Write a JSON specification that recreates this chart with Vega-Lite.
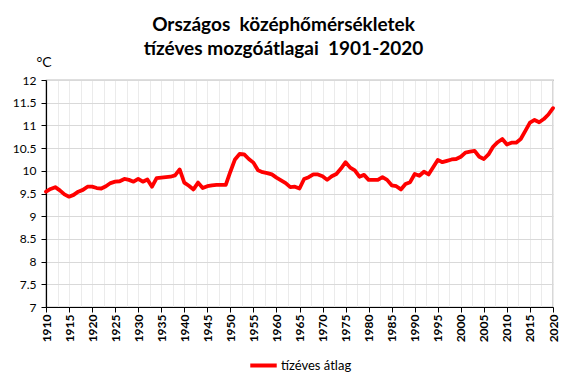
{
  "$schema": "https://vega.github.io/schema/vega-lite/v6.json",
  "width": 507,
  "height": 227,
  "autosize": {"type": "none"},
  "padding": {"left": 46, "top": 80, "right": 15, "bottom": 79},
  "background": "white",
  "title": {
    "text": ["Országos \u00a0középhőmérsékletek", "tízéves mozgóátlagai \u00a01901-2020"],
    "font": "Lato",
    "fontSize": 19,
    "fontWeight": "bold",
    "color": "#000000",
    "lineHeight": 24,
    "anchor": "middle",
    "dx": -16,
    "offset": -4
  },
  "data": {
    "values": [
      {"ev": 1910, "t": 9.54}, {"ev": 1911, "t": 9.60}, {"ev": 1912, "t": 9.64}, {"ev": 1913, "t": 9.57},
      {"ev": 1914, "t": 9.48}, {"ev": 1915, "t": 9.43}, {"ev": 1916, "t": 9.47}, {"ev": 1917, "t": 9.54},
      {"ev": 1918, "t": 9.58}, {"ev": 1919, "t": 9.65}, {"ev": 1920, "t": 9.65}, {"ev": 1921, "t": 9.62},
      {"ev": 1922, "t": 9.61}, {"ev": 1923, "t": 9.66}, {"ev": 1924, "t": 9.73}, {"ev": 1925, "t": 9.76},
      {"ev": 1926, "t": 9.77}, {"ev": 1927, "t": 9.82}, {"ev": 1928, "t": 9.80}, {"ev": 1929, "t": 9.76},
      {"ev": 1930, "t": 9.82}, {"ev": 1931, "t": 9.76}, {"ev": 1932, "t": 9.81}, {"ev": 1933, "t": 9.65},
      {"ev": 1934, "t": 9.84}, {"ev": 1935, "t": 9.85}, {"ev": 1936, "t": 9.86}, {"ev": 1937, "t": 9.87},
      {"ev": 1938, "t": 9.90}, {"ev": 1939, "t": 10.03}, {"ev": 1940, "t": 9.74}, {"ev": 1941, "t": 9.67},
      {"ev": 1942, "t": 9.59}, {"ev": 1943, "t": 9.74}, {"ev": 1944, "t": 9.62}, {"ev": 1945, "t": 9.66},
      {"ev": 1946, "t": 9.68}, {"ev": 1947, "t": 9.69}, {"ev": 1948, "t": 9.69}, {"ev": 1949, "t": 9.69},
      {"ev": 1950, "t": 9.98}, {"ev": 1951, "t": 10.25}, {"ev": 1952, "t": 10.37}, {"ev": 1953, "t": 10.36},
      {"ev": 1954, "t": 10.26}, {"ev": 1955, "t": 10.18}, {"ev": 1956, "t": 10.01}, {"ev": 1957, "t": 9.97},
      {"ev": 1958, "t": 9.95}, {"ev": 1959, "t": 9.92}, {"ev": 1960, "t": 9.85}, {"ev": 1961, "t": 9.79},
      {"ev": 1962, "t": 9.73}, {"ev": 1963, "t": 9.64}, {"ev": 1964, "t": 9.65}, {"ev": 1965, "t": 9.61},
      {"ev": 1966, "t": 9.82}, {"ev": 1967, "t": 9.86}, {"ev": 1968, "t": 9.92}, {"ev": 1969, "t": 9.92},
      {"ev": 1970, "t": 9.88}, {"ev": 1971, "t": 9.80}, {"ev": 1972, "t": 9.88}, {"ev": 1973, "t": 9.93},
      {"ev": 1974, "t": 10.05}, {"ev": 1975, "t": 10.19}, {"ev": 1976, "t": 10.07}, {"ev": 1977, "t": 10.01},
      {"ev": 1978, "t": 9.87}, {"ev": 1979, "t": 9.91}, {"ev": 1980, "t": 9.80}, {"ev": 1981, "t": 9.80},
      {"ev": 1982, "t": 9.80}, {"ev": 1983, "t": 9.86}, {"ev": 1984, "t": 9.80}, {"ev": 1985, "t": 9.68},
      {"ev": 1986, "t": 9.66}, {"ev": 1987, "t": 9.59}, {"ev": 1988, "t": 9.71}, {"ev": 1989, "t": 9.75},
      {"ev": 1990, "t": 9.93}, {"ev": 1991, "t": 9.89}, {"ev": 1992, "t": 9.98}, {"ev": 1993, "t": 9.92},
      {"ev": 1994, "t": 10.08}, {"ev": 1995, "t": 10.24}, {"ev": 1996, "t": 10.19}, {"ev": 1997, "t": 10.22},
      {"ev": 1998, "t": 10.25}, {"ev": 1999, "t": 10.26}, {"ev": 2000, "t": 10.31}, {"ev": 2001, "t": 10.40},
      {"ev": 2002, "t": 10.42}, {"ev": 2003, "t": 10.44}, {"ev": 2004, "t": 10.31}, {"ev": 2005, "t": 10.26},
      {"ev": 2006, "t": 10.36}, {"ev": 2007, "t": 10.53}, {"ev": 2008, "t": 10.63}, {"ev": 2009, "t": 10.70},
      {"ev": 2010, "t": 10.58}, {"ev": 2011, "t": 10.62}, {"ev": 2012, "t": 10.62}, {"ev": 2013, "t": 10.70},
      {"ev": 2014, "t": 10.88}, {"ev": 2015, "t": 11.06}, {"ev": 2016, "t": 11.12}, {"ev": 2017, "t": 11.07},
      {"ev": 2018, "t": 11.14}, {"ev": 2019, "t": 11.24}, {"ev": 2020, "t": 11.38}
    ]
  },
  "layer": [
    {
      "mark": {"type": "line", "strokeOpacity": 0},
      "encoding": {
        "x": {
          "field": "ev", "type": "quantitative",
          "scale": {"domain": [1910, 2020], "nice": false, "zero": false},
          "axis": {
            "orient": "top",
            "values": [1910, 1912.5, 1915, 1917.5, 1920, 1922.5, 1925, 1927.5, 1930, 1932.5, 1935, 1937.5, 1940, 1942.5, 1945, 1947.5, 1950, 1952.5, 1955, 1957.5, 1960, 1962.5, 1965, 1967.5, 1970, 1972.5, 1975, 1977.5, 1980, 1982.5, 1985, 1987.5, 1990, 1992.5, 1995, 1997.5, 2000, 2002.5, 2005, 2007.5, 2010, 2012.5, 2015, 2017.5, 2020],
            "grid": true, "gridColor": "#ebebeb", "gridWidth": 1,
            "labels": false, "ticks": false, "domain": false, "title": null
          }
        },
        "y": {
          "field": "t", "type": "quantitative",
          "scale": {"domain": [7, 12], "nice": false, "zero": false},
          "axis": {
            "values": [7, 7.5, 8, 8.5, 9, 9.5, 10, 10.5, 11, 11.5, 12],
            "format": "~g",
            "grid": true, "gridColor": "#d9d9d9", "gridWidth": 1,
            "labelFont": "Lato", "labelFontSize": 12, "labelColor": "#000000", "labelPadding": 5,
            "domainColor": "#000000", "domainWidth": 1.2,
            "tickColor": "#000000", "tickSize": 5,
            "title": "°C",
            "titleAngle": 0, "titleAlign": "left", "titleBaseline": "alphabetic",
            "titleFont": "Lato", "titleFontSize": 14, "titleFontWeight": "normal", "titleColor": "#000000",
            "titleX": -10, "titleY": -14
          }
        }
      }
    },
    {
      "mark": {"type": "line", "color": "#ff0000", "strokeWidth": 3.8, "strokeJoin": "round", "strokeCap": "round"},
      "encoding": {
        "x": {
          "field": "ev", "type": "quantitative",
          "scale": {"domain": [1910, 2020], "nice": false, "zero": false},
          "axis": {
            "orient": "bottom",
            "values": [1910, 1915, 1920, 1925, 1930, 1935, 1940, 1945, 1950, 1955, 1960, 1965, 1970, 1975, 1980, 1985, 1990, 1995, 2000, 2005, 2010, 2015, 2020],
            "format": "d",
            "grid": false,
            "labelAngle": 270,
            "labelFont": "Lato", "labelFontSize": 12, "labelFontWeight": "bold", "labelColor": "#000000",
            "labelPadding": 2,
            "domainColor": "#000000", "domainWidth": 1.2,
            "tickColor": "#000000", "tickSize": 5,
            "title": null
          }
        },
        "y": {
          "field": "t", "type": "quantitative",
          "scale": {"domain": [7, 12], "nice": false, "zero": false},
          "axis": {
            "values": [7, 7.5, 8, 8.5, 9, 9.5, 10, 10.5, 11, 11.5, 12],
            "format": "~g",
            "grid": true, "gridColor": "#d9d9d9", "gridWidth": 1,
            "labelFont": "Lato", "labelFontSize": 12, "labelColor": "#000000", "labelPadding": 5,
            "domainColor": "#000000", "domainWidth": 1.2,
            "tickColor": "#000000", "tickSize": 5,
            "title": "°C",
            "titleAngle": 0, "titleAlign": "left", "titleBaseline": "alphabetic",
            "titleFont": "Lato", "titleFontSize": 14, "titleFontWeight": "normal", "titleColor": "#000000",
            "titleX": -10, "titleY": -14
          }
        },
        "color": {
          "datum": "tízéves átlag",
          "type": "nominal",
          "scale": {"range": ["#ff0000"]},
          "legend": {
            "orient": "bottom",
            "title": null,
            "symbolType": "stroke",
            "symbolStrokeWidth": 4,
            "symbolSize": 700,
            "labelFont": "Lato", "labelFontSize": 13, "labelColor": "#000000",
            "labelOffset": 2,
            "offset": 8
          }
        }
      }
    }
  ],
  "resolve": {"axis": {"x": "independent"}},
  "config": {
    "view": {"stroke": "#7f7f7f", "strokeWidth": 1.2},
    "legend": {"layout": {"bottom": {"anchor": "middle"}}}
  }
}
